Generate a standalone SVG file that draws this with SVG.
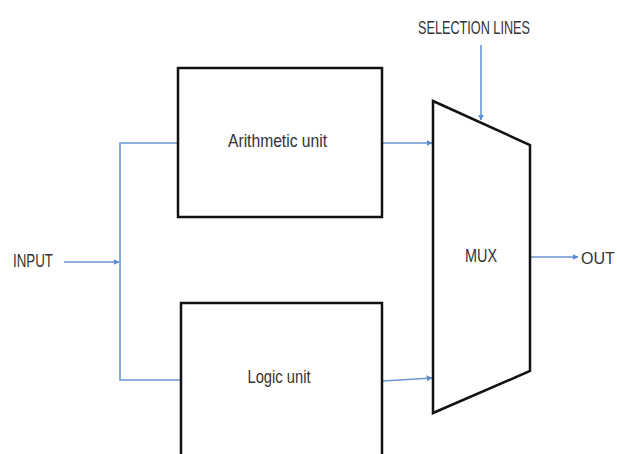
<svg xmlns="http://www.w3.org/2000/svg" width="617" height="454" viewBox="0 0 617 454">
<defs>
<style>
.box{fill:#fff;stroke:#111;stroke-width:2.5}
.wire{fill:none;stroke:#6a96d4;stroke-width:1.6}
.lbl{font-family:"Liberation Sans",Arial,sans-serif;font-size:19px;fill:#333;text-anchor:middle;dominant-baseline:central}
</style>
<marker id="ah" viewBox="0 0 10 10" refX="9" refY="5" markerWidth="6" markerHeight="6" orient="auto" markerUnits="userSpaceOnUse">
<path d="M0,0 L10,5 L0,10 z" fill="#5b8bd0"/>
</marker>
</defs>
<rect width="617" height="454" fill="#fff"/>
<g id="connectors">
<path class="wire" d="M64,262 L119,262" marker-end="url(#ah)"/>
<path class="wire" d="M178,143 L120,143 L120,380 L180,380"/>
<path class="wire" d="M383,143 L432,143" marker-end="url(#ah)"/>
<path class="wire" d="M383,381 L432,378" marker-end="url(#ah)"/>
<path class="wire" d="M481,45 L481,120" marker-end="url(#ah)"/>
<path class="wire" d="M531,257 L578,257" marker-end="url(#ah)"/>
</g>
<g id="input"><text class="lbl" x="33" y="260" textLength="40" lengthAdjust="spacingAndGlyphs">INPUT</text></g>
<g id="selection"><text class="lbl" x="474" y="27" textLength="112" lengthAdjust="spacingAndGlyphs">SELECTION LINES</text></g>
<g id="arithmetic">
<rect class="box" x="178" y="68" width="204" height="149"/>
<text class="lbl" x="277.5" y="140" textLength="99" lengthAdjust="spacingAndGlyphs">Arithmetic unit</text>
</g>
<g id="logic">
<rect class="box" x="181" y="303" width="201" height="170"/>
<text class="lbl" x="279" y="376" textLength="63" lengthAdjust="spacingAndGlyphs">Logic unit</text>
</g>
<g id="mux">
<polygon class="box" points="433,101 530,145 530,371 433,413"/>
<text class="lbl" x="481" y="255" textLength="32" lengthAdjust="spacingAndGlyphs">MUX</text>
</g>
<g id="out"><text class="lbl" x="598" y="258" style="font-size:16px">OUT</text></g>
</svg>
